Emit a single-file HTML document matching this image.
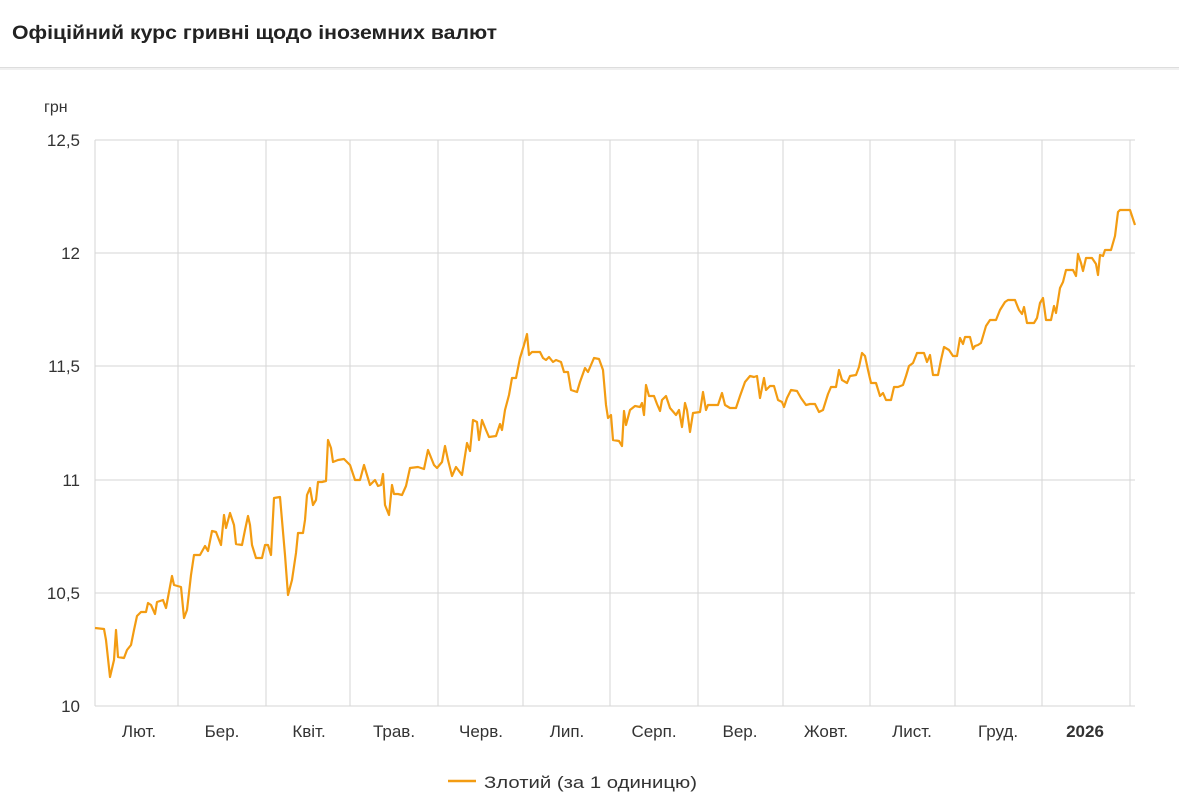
<!DOCTYPE html>
<html><head><meta charset="utf-8"><style>
html,body{margin:0;padding:0;background:#fff;width:1179px;height:803px;overflow:hidden;font-family:"Liberation Sans",Roboto,sans-serif}
</style></head><body>
<svg width="1179" height="803" xmlns="http://www.w3.org/2000/svg" font-family="Liberation Sans, sans-serif">
<text x="12" y="39" font-size="19" font-weight="bold" fill="#222" textLength="485" lengthAdjust="spacingAndGlyphs">Офіційний курс гривні щодо іноземних валют</text>
<rect x="0" y="67" width="1179" height="1" fill="#ddd"/>
<rect x="0" y="68" width="1179" height="2" fill="#f0f0f0"/>
<text x="44" y="112" font-size="16" fill="#333">грн</text>
<g stroke="#d6d6d6" stroke-width="1">
<line x1="95" y1="140" x2="1135" y2="140"/><line x1="95" y1="253" x2="1135" y2="253"/><line x1="95" y1="366" x2="1135" y2="366"/><line x1="95" y1="480" x2="1135" y2="480"/><line x1="95" y1="593" x2="1135" y2="593"/><line x1="95" y1="706" x2="1135" y2="706"/>
<line x1="95" y1="140" x2="95" y2="706"/><line x1="178" y1="140" x2="178" y2="706"/><line x1="266" y1="140" x2="266" y2="706"/><line x1="350" y1="140" x2="350" y2="706"/><line x1="438" y1="140" x2="438" y2="706"/><line x1="523" y1="140" x2="523" y2="706"/><line x1="610" y1="140" x2="610" y2="706"/><line x1="698" y1="140" x2="698" y2="706"/><line x1="783" y1="140" x2="783" y2="706"/><line x1="870" y1="140" x2="870" y2="706"/><line x1="955" y1="140" x2="955" y2="706"/><line x1="1042" y1="140" x2="1042" y2="706"/><line x1="1130" y1="140" x2="1130" y2="706"/>
</g>
<g font-size="17" fill="#333" text-anchor="end">
<text x="80" y="146">12,5</text><text x="80" y="259">12</text><text x="80" y="372">11,5</text><text x="80" y="486">11</text><text x="80" y="599">10,5</text><text x="80" y="712">10</text>
</g>
<g font-size="17" fill="#333" text-anchor="middle">
<text x="139" y="737">Лют.</text><text x="222" y="737">Бер.</text><text x="309" y="737">Квіт.</text><text x="394" y="737">Трав.</text><text x="481" y="737">Черв.</text><text x="567" y="737">Лип.</text><text x="654" y="737">Серп.</text><text x="740" y="737">Вер.</text><text x="826" y="737">Жовт.</text><text x="912" y="737">Лист.</text><text x="998" y="737">Груд.</text><text x="1085" y="737" font-weight="bold">2026</text>
</g>
<polyline fill="none" stroke="#f39c12" stroke-width="2.2" stroke-linejoin="round" points="95,628 104,629 106,640 110,677 114,660 116,630 118,657 124,658 127,650 131,645 134,630 137,616 141,612 146,612 148,603 151,605 155,614 157,602 163,600 166,608 172,576 174,585 181,587 184,618 187,610 191,575 194,555 200,555 205,546 208,551 212,531 216,532 221,545 224,515 226,528 230,513 234,525 236,544 242,545 245,530 248,516 250,525 252,545 256,558 262,558 265,545 268,545 271,555 274,498 280,497 285,555 288,595 292,580 296,553 298,533 303,533 305,520 307,495 310,488 313,505 316,500 318,482 322,482 326,481 328,440 331,448 333,462 338,460 344,459 350,465 355,480 360,480 364,465 370,485 375,480 378,486 381,485 383,474 385,505 389,515 392,485 394,494 398,494 402,495 406,486 410,468 418,467 424,469 428,450 434,465 437,468 442,462 445,446 448,460 452,476 456,467 462,475 467,443 470,451 473,420 477,422 479,440 482,420 486,430 489,437 496,436 500,424 502,430 505,410 509,395 512,378 516,378 520,358 524,345 527,334 529,355 532,352 540,352 543,358 546,360 549,357 553,362 556,360 561,362 564,372 568,372 571,390 577,392 580,382 585,368 588,372 594,358 599,359 603,370 606,405 608,418 611,415 613,440 619,441 622,446 624,411 626,425 630,410 635,406 640,407 642,403 644,415 646,385 649,396 654,396 657,404 660,411 662,400 666,396 670,408 676,415 679,410 682,427 685,403 687,410 690,432 693,413 700,412 703,392 706,410 708,405 711,405 718,405 722,393 725,405 730,408 736,408 740,396 745,382 750,376 754,377 757,376 760,398 764,378 766,390 770,386 774,386 778,400 782,402 784,407 787,398 791,390 797,391 801,398 806,405 810,404 815,404 819,412 823,410 828,394 831,387 836,387 839,370 842,380 847,383 850,376 856,375 859,367 862,353 865,356 868,370 871,383 876,383 880,396 883,393 886,400 891,400 894,387 898,387 903,385 906,376 909,366 913,363 917,353 921,353 924,353 927,362 930,355 933,375 938,375 941,360 944,347 949,350 953,356 957,356 960,338 963,344 965,337 970,337 973,349 975,346 978,345 981,343 986,326 990,320 996,320 1000,310 1005,302 1008,300 1015,300 1019,310 1022,314 1024,307 1027,323 1034,323 1037,318 1040,303 1043,298 1046,320 1051,320 1054,306 1056,313 1060,288 1063,282 1066,270 1073,270 1076,276 1078,254 1081,263 1083,271 1086,258 1092,258 1096,264 1098,275 1100,255 1103,256 1105,250 1111,250 1115,236 1118,212 1120,210 1130,210 1135,225"/>
<line x1="448" y1="781" x2="476" y2="781" stroke="#f39c12" stroke-width="2.5"/>
<text x="484" y="788" font-size="17" fill="#333" textLength="213" lengthAdjust="spacingAndGlyphs">Злотий (за 1 одиницю)</text>
</svg>
</body></html>
